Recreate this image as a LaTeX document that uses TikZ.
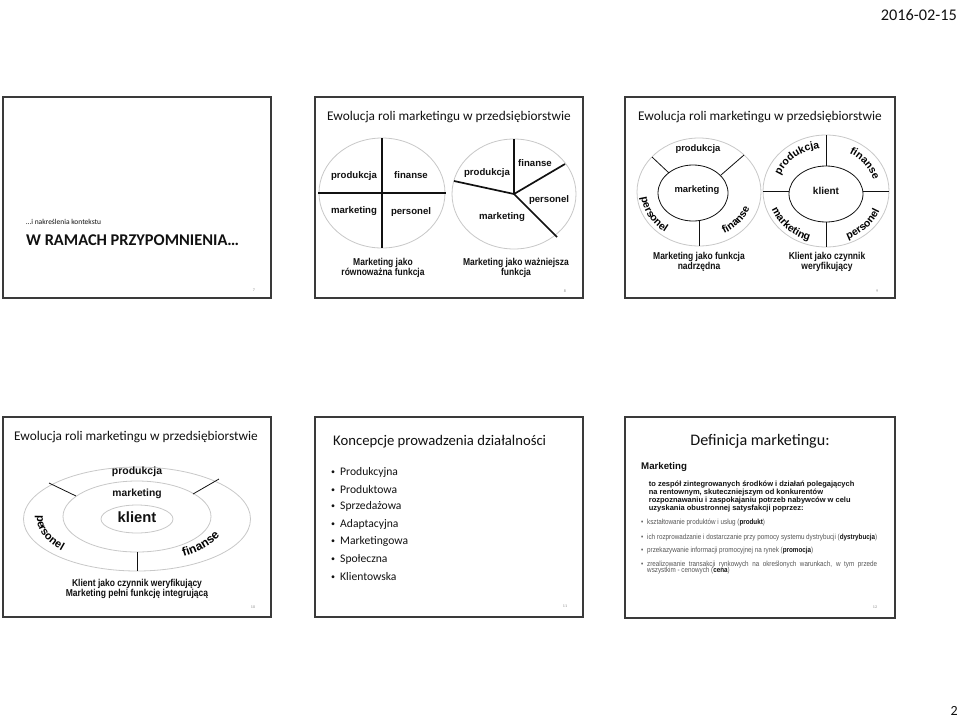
\documentclass[tikz,border=0pt]{standalone}
\usepackage{fontspec}
\setmainfont{Liberation Sans}
\newfontfamily\carlito{Carlito}
\newfontfamily\datefont{Carlito}[Numbers=Monospaced]
\newfontfamily\narrow{Liberation Sans}[FakeStretch=0.85]
\usepackage{tikz}
\usetikzlibrary{decorations.text}
\definecolor{ink}{HTML}{111111}
\definecolor{frame}{HTML}{3A3A3A}
\definecolor{rimgrey}{HTML}{C8C8C8}
\definecolor{textgrey}{HTML}{555555}
\definecolor{muted}{HTML}{8A8A8A}
\newcommand\ringa{\bfseries\fontsize{10.5}{12}\selectfont}
\newcommand\ringb{\bfseries\fontsize{11}{13}\selectfont}
\newcommand\ringc{\bfseries\fontsize{12}{14}\selectfont}
\newcommand\dotmark{\raisebox{1pt}{\fontsize{8}{8}\selectfont•}}

\begin{document}
\begin{tikzpicture}[x=1pt,y=-1pt,
  slide/.style={draw=frame,line width=1.1pt},
  title/.style={font=\carlito\fontsize{13.3}{16}\selectfont,text=ink,inner sep=0pt},
  lab/.style={font=\bfseries\fontsize{9.6}{11}\selectfont,text=ink,inner sep=0pt},
  capt/.style={font=\narrow\bfseries\fontsize{10}{9.6}\selectfont,text=ink,align=center,inner sep=0pt},
  num/.style={font=\carlito\fontsize{4}{5}\selectfont,text=muted,inner sep=0pt},
  point/.style={font=\carlito\fontsize{11.6}{14}\selectfont,text=ink,anchor=west,inner sep=0pt},
  defline/.style={font=\narrow\fontsize{7.4}{8}\selectfont,text=textgrey,anchor=west,inner sep=0pt},
  rim/.style={draw=rimgrey,line width=0.8pt},
  cut/.style={draw=ink,line width=1.7pt},
  spoke/.style={draw=ink,line width=0.8pt},
  ringtext/.style={decorate,decoration={text along path,text align=center,text={#1}}}]
\fill[white] (0,0) rectangle (960,718);
\useasboundingbox (0,0) rectangle (960,718);
\node[font=\datefont\fontsize{16.3}{19}\selectfont,text=ink,anchor=west,inner sep=0pt] (date) at (880.7,15) {2016-02-15};
\node[font=\carlito\fontsize{14}{16}\selectfont,text=ink,anchor=east,inner sep=0pt] (page) at (958,711) {2};
\draw[slide] (3,97) rectangle (271,298);
\draw[slide] (315,97) rectangle (583,298);
\draw[slide] (625,97) rectangle (895,298);
\draw[slide] (3,417) rectangle (271,617);
\draw[slide] (315,417) rectangle (583,617);
\draw[slide] (625,417) rectangle (895,618);
\node[font=\carlito\fontsize{7.5}{9}\selectfont,text=ink,anchor=west,inner sep=0pt] (sub7) at (26,222) {…i nakreślenia kontekstu};
\node[font=\carlito\bfseries\fontsize{16.4}{19}\selectfont,text=ink,anchor=west,inner sep=0pt] (head7) at (26,240) {W RAMACH PRZYPOMNIENIA…};
\node[num] (n7) at (254,290) {7};
\node[title] (t8) at (449,117) {Ewolucja roli marketingu w przedsiębiorstwie};
\draw[rim] (382,193) ellipse [x radius=63,y radius=55];
\draw[cut] (382,138) -- (382,248);
\draw[cut] (318,193) -- (446,193);
\node[lab] (prod8a) at (354,176) {produkcja};
\node[lab] (fin8a) at (411,175) {finanse};
\node[lab] (mark8a) at (354,211) {marketing};
\node[lab] (pers8a) at (411,212) {personel};
\node[capt] (cap8a) at (383,268) {Marketing jako\\równoważna funkcja};
\draw[rim] (514,194) ellipse [x radius=62,y radius=55];
\coordinate (hub8) at (514,194);
\draw[cut] (hub8) -- (514,139);
\draw[cut] (hub8) -- (454,181);
\draw[cut] (hub8) -- (565,164);
\draw[cut] (hub8) -- (557,237);
\node[lab] (prod8b) at (487,173) {produkcja};
\node[lab] (fin8b) at (535,163) {finanse};
\node[lab] (pers8b) at (549,200) {personel};
\node[lab] (mark8b) at (502,217) {marketing};
\node[capt] (cap8b) at (516,268) {Marketing jako ważniejsza\\funkcja};
\node[num] (n8) at (565,291) {8};
\node[title] (t9) at (760,117) {Ewolucja roli marketingu w przedsiębiorstwie};
\draw[rim] (699,192) ellipse [x radius=62,y radius=54];
\draw[spoke] (693,193) ellipse [x radius=35,y radius=28];
\draw[spoke] (652,157) -- (669,173);
\draw[spoke] (744,155) -- (721,175);
\draw[spoke] (699,221) -- (699,246);
\node[lab,font=\bfseries\fontsize{9.4}{11}\selectfont] (prod9a) at (698,149) {produkcja};
\node[lab,font=\bfseries\fontsize{9.4}{11}\selectfont] (mark9a) at (697,190) {marketing};
\path[shift={(699,192)},ringtext={|\ringa|personel}] (-164:58 and 50) arc[start angle=-164,end angle=-254,x radius=58,y radius=50];
\path[shift={(699,192)},ringtext={|\ringa|finanse}] (66:54 and 47) arc[start angle=66,end angle=16,x radius=54,y radius=47];
\node[capt] (cap9a) at (699,262) {Marketing jako funkcja\\nadrzędna};
\draw[rim] (826,191) ellipse [x radius=63,y radius=56];
\draw[spoke] (826,194) ellipse [x radius=37,y radius=28];
\draw[spoke] (826,135) -- (826,166);
\draw[spoke] (826,222) -- (826,247);
\draw[spoke] (763,191) -- (789,191);
\draw[spoke] (863,191) -- (889,191);
\node[lab,font=\bfseries\fontsize{10}{12}\selectfont] (kl9) at (826,191) {klient};
\path[shift={(826,191)},ringtext={|\ringa|produkcja}] (-174:49 and 43) arc[start angle=-174,end angle=-84,x radius=49,y radius=43];
\path[shift={(826,191)},ringtext={|\ringa|finanse}] (-82:49 and 43) arc[start angle=-82,end angle=8,x radius=49,y radius=43];
\path[shift={(826,191)},ringtext={|\ringa|marketing}] (-181:58 and 52) arc[start angle=-181,end angle=-271,x radius=58,y radius=52];
\path[shift={(826,191)},ringtext={|\ringa|personel}] (-271:58 and 52) arc[start angle=-271,end angle=-361,x radius=58,y radius=52];
\node[capt] (cap9b) at (827,262) {Klient jako czynnik\\weryfikujący};
\node[num] (n9) at (877,291) {9};
\node[title] (t10) at (136,437) {Ewolucja roli marketingu w przedsiębiorstwie};
\draw[rim] (137,519) ellipse [x radius=113.5,y radius=52];
\draw[rim] (137,516.5) ellipse [x radius=74,y radius=35.5];
\draw[rim] (137,519) ellipse [x radius=36,y radius=14];
\draw[spoke] (49,483) -- (76,496);
\draw[spoke] (219,479) -- (193,494);
\draw[spoke] (137,552) -- (137,571);
\node[lab,font=\bfseries\fontsize{10.5}{12}\selectfont] (prod10) at (137,472) {produkcja};
\node[lab,font=\bfseries\fontsize{10.3}{12}\selectfont] (mark10) at (137,494) {marketing};
\node[lab,font=\bfseries\fontsize{14.8}{17}\selectfont] (kl10) at (137,517) {klient};
\path[shift={(137,519)},ringtext={|\ringb|personel}] (-165:100 and 48) arc[start angle=-165,end angle=-228,x radius=100,y radius=48];
\path[shift={(137,519)},ringtext={|\ringc|finanse}] (-294:90 and 44) arc[start angle=-294,end angle=-349,x radius=90,y radius=44];
\node[capt] (cap10) at (137,589) {Klient jako czynnik weryfikujący\\Marketing pełni funkcję integrującą};
\node[num] (n10) at (253,607) {10};
\node[title,font=\carlito\fontsize{14.7}{17}\selectfont,anchor=west] (t11) at (333,442) {Koncepcje prowadzenia działalności};
\node[point] (k1) at (331,472) {\makebox[9pt][l]{\dotmark}Produkcyjna};
\node[point] (k2) at (331,489.3) {\makebox[9pt][l]{\dotmark}Produktowa};
\node[point] (k3) at (331,506.7) {\makebox[9pt][l]{\dotmark}Sprzedażowa};
\node[point] (k4) at (331,524) {\makebox[9pt][l]{\dotmark}Adaptacyjna};
\node[point] (k5) at (331,541.3) {\makebox[9pt][l]{\dotmark}Marketingowa};
\node[point] (k6) at (331,559) {\makebox[9pt][l]{\dotmark}Społeczna};
\node[point] (k7) at (331,576.3) {\makebox[9pt][l]{\dotmark}Klientowska};
\node[num] (n11) at (565,606) {11};
\node[title,font=\carlito\fontsize{16.1}{19}\selectfont] (t12) at (760,441) {Definicja marketingu:};
\node[font=\bfseries\fontsize{9.7}{11}\selectfont,text=ink,anchor=west,inner sep=0pt] (mk12) at (641,467) {Marketing};
\node[font=\bfseries\fontsize{7.5}{8.1}\selectfont,text=ink,anchor=west,align=left,inner sep=0pt] (body12) at (648.7,496.5) {to zespół zintegrowanych środków i działań polegających\\na rentownym, skuteczniejszym od konkurentów\\rozpoznawaniu i zaspokajaniu potrzeb nabywców w celu\\uzyskania obustronnej satysfakcji poprzez:};
\node[defline] (d1) at (641,522.3) {\makebox[6pt][l]{•}kształtowanie produktów i usług (\textcolor{ink}{\textbf{produkt}})};
\node[defline] (d2) at (641,537.7) {\makebox[6pt][l]{•}ich rozprowadzanie i dostarczanie przy pomocy systemu dystrybucji (\textcolor{ink}{\textbf{dystrybucja}})};
\node[defline] (d3) at (641,550.7) {\makebox[6pt][l]{•}przekazywanie informacji promocyjnej na rynek (\textcolor{ink}{\textbf{promocja}})};
\node[defline] (d4) at (641,564.3) {\makebox[6pt][l]{•}\makebox[230pt][s]{zrealizowanie transakcji rynkowych na określonych warunkach, w tym przede}};
\node[defline] (d4b) at (647,571) {wszystkim - cenowych (\textcolor{ink}{\textbf{cena}})};
\node[num] (n12) at (875,607) {12};
\end{tikzpicture}
\end{document}
